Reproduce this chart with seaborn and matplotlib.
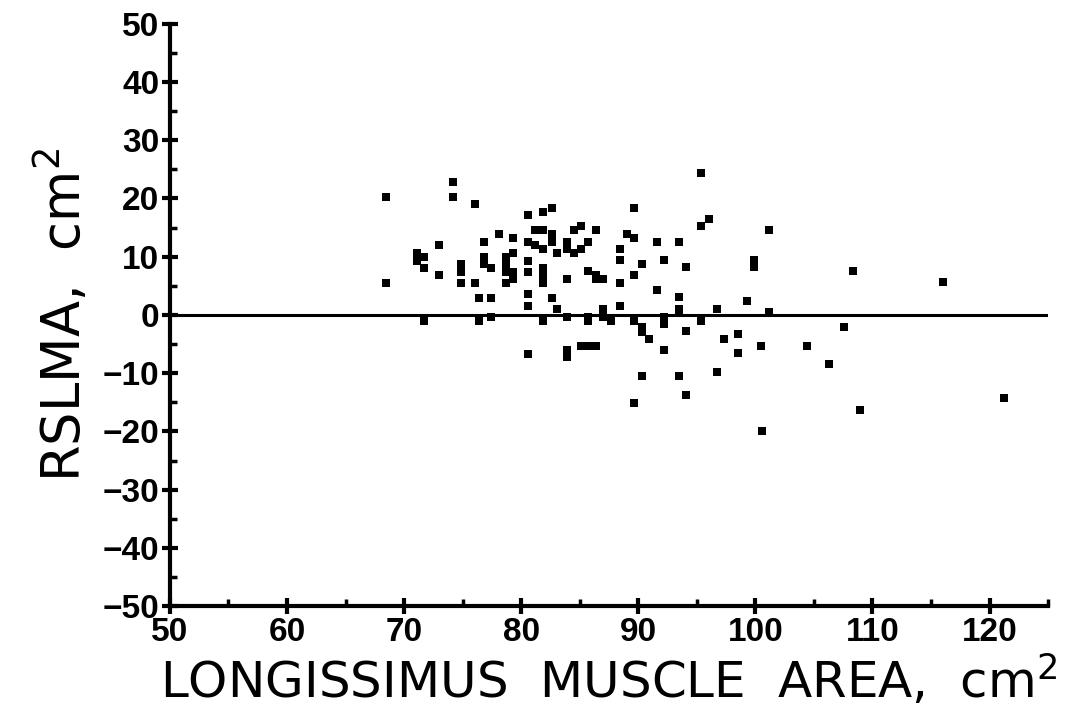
import matplotlib
matplotlib.use("Agg")
import matplotlib.pyplot as plt
import seaborn as sns
import pandas as pd
from matplotlib.ticker import MultipleLocator

# longissimus muscle area (cm2) and residual (RSLMA, cm2)
lma = [
    68.5, 74.2, 74.2, 76.1, 80.6, 81.9, 82.6, 78.1, 81.2, 81.9, 82.6, 76.8,
    79.3, 80.6, 81.2, 82.6, 81.9, 83.1, 73.0, 71.1, 71.1, 71.7, 71.7, 73.0,
    68.5, 74.9, 74.9, 74.9, 76.1, 76.4, 76.8, 76.8, 77.4, 77.4, 78.7, 78.7,
    78.7, 78.7, 79.3, 79.3, 79.3, 80.6, 80.6, 80.6, 80.6, 81.9, 81.9, 81.9,
    82.6, 83.1, 71.7, 76.4, 77.4, 81.9, 80.6,
    83.9, 83.9, 85.1, 85.7, 86.4, 83.9, 83.9, 84.5, 85.1, 84.5, 85.1, 85.7,
    86.4, 83.9, 85.7, 86.4, 86.4, 87.0, 87.0, 87.0, 83.9, 85.7, 85.7, 87.7,
    88.4, 88.4, 88.4, 88.4, 89.0, 89.6, 89.6, 89.6, 89.6, 90.3, 90.3, 90.3,
    90.9, 90.3, 89.6, 91.6, 91.6, 92.2, 92.2, 92.2, 92.2, 93.5, 93.5, 93.5,
    93.5, 93.5, 94.1, 94.1, 94.1, 95.4, 95.4, 96.0, 95.4, 96.7, 96.7, 97.3,
    98.5, 98.5,
    101.2, 99.9, 99.9, 99.3, 101.2, 108.3, 116.0, 107.6, 100.5, 104.4, 106.3,
    108.9, 121.2, 100.6,
]
rslma = [
    20.3, 22.9, 20.3, 19.1, 17.1, 17.7, 18.4, 13.9, 14.5, 14.5, 13.9, 12.5,
    13.2, 12.6, 12.0, 12.6, 11.3, 10.7, 12.0, 10.7, 9.3, 10.0, 8.1, 6.8,
    5.4, 8.8, 7.4, 5.4, 5.4, 2.9, 10.0, 8.8, 8.1, 2.9, 10.0, 8.8,
    7.4, 5.4, 10.7, 7.4, 6.1, 9.3, 7.4, 3.6, 1.6, 8.1, 6.8, 5.4,
    2.9, 1.1, -1.0, -1.0, -0.3, -1.0, -6.7,
    -6.0, -7.3, -5.4, -5.4, -5.4, 12.6, 11.3, 14.5, 15.2, 10.7, 11.3, 12.6,
    14.5, 6.1, 7.5, 6.8, 6.1, 6.1, 1.1, -0.3, -0.3, -0.3, -1.0, -1.0,
    11.3, 9.4, 5.5, 1.6, 13.9, 18.4, 13.2, 6.8, -1.0, 8.8, -2.0, -2.9,
    -4.1, -10.5, -15.1, 12.6, 4.3, 9.4, -0.3, -1.5, -6.0, 12.6, 3.0, 1.1,
    0.4, -10.5, 8.2, -2.7, -13.7, 24.3, 15.2, 16.5, -1.0, 1.1, -9.8, -4.1,
    -3.3, -6.6,
    14.6, 9.5, 8.2, 2.4, 0.5, 7.6, 5.7, -2.1, -5.4, -5.4, -8.5,
    -16.3, -14.2, -20.0,
]

x_ticks = [50, 60, 70, 80, 90, 100, 110, 120]
y_ticks = [-50, -40, -30, -20, -10, 0, 10, 20, 30, 40, 50]

df = pd.DataFrame({"lma": lma, "rslma": rslma})

sns.set_style("ticks")
plt.rcParams["font.family"] = ["Liberation Sans", "DejaVu Sans"]
plt.rcParams["mathtext.default"] = "regular"

fig = plt.figure(figsize=(10.75, 7.19), dpi=100)
ax = fig.add_axes([0.158, 0.157, 0.817, 0.810])

sns.scatterplot(data=df, x="lma", y="rslma", marker="s", s=28,
                color="black", linewidth=0, ax=ax)
ax.axhline(0, color="black", lw=2.2, zorder=1)

ax.set_xlim(50, 125)
ax.set_ylim(-50, 50)
ax.set_xticks(x_ticks)
ax.set_yticks(y_ticks)
ax.xaxis.set_minor_locator(MultipleLocator(5))
ax.yaxis.set_minor_locator(MultipleLocator(5))

for side in ["top", "right"]:
    ax.spines[side].set_visible(False)
for side in ["left", "bottom"]:
    ax.spines[side].set_linewidth(3)
    ax.spines[side].set_color("black")

ax.tick_params(which="major", direction="inout", length=11, width=3,
               color="black", labelcolor="black", pad=2)
ax.tick_params(which="minor", direction="in", length=5, width=2.5,
               color="black")
for lab in ax.get_xticklabels() + ax.get_yticklabels():
    lab.set_fontsize(24)
    lab.set_fontweight("bold")

ax.set_xlabel("LONGISSIMUS  MUSCLE  AREA,  cm$^{2}$", fontsize=36,
              family="DejaVu Sans", color="black", labelpad=4)
ax.set_ylabel("RSLMA,  cm$^{2}$", fontsize=38, family="DejaVu Sans",
              color="black", labelpad=8)

fig.savefig("out.png", dpi=100)
